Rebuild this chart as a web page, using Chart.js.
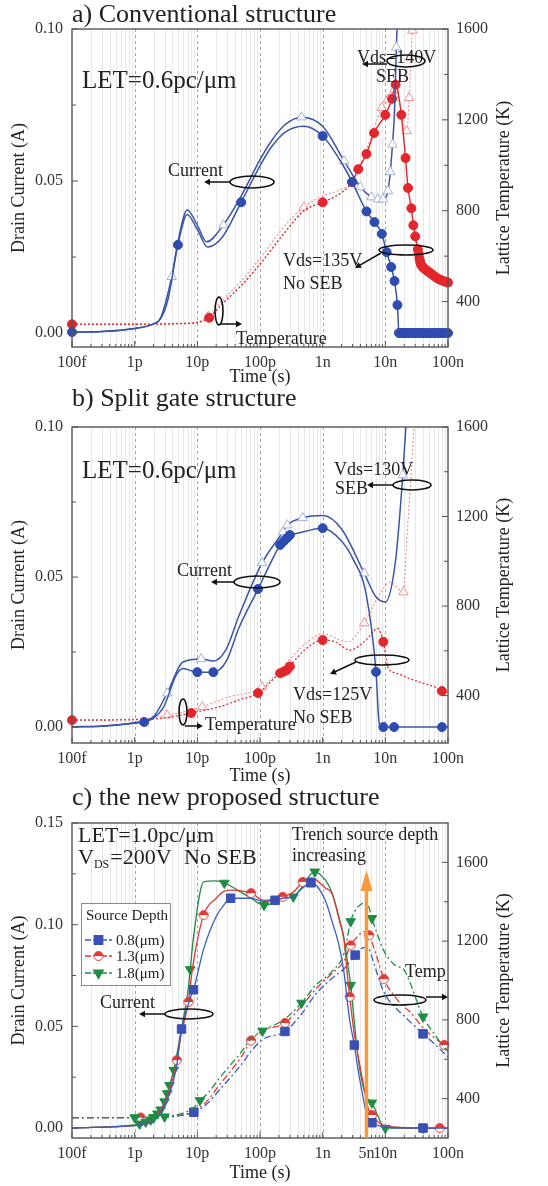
<!DOCTYPE html>
<html>
<head>
<meta charset="utf-8">
<script src="https://cdn.jsdelivr.net/npm/chart.js@4.4.0/dist/chart.umd.min.js"></script>
<style>
  body { margin: 0; background: #fff; width: 548px; height: 1186px; position: relative; overflow: hidden; }
  canvas { position: absolute; left: 0; }
</style>
</head>
<body>
<canvas id="chartA" width="548" height="388" style="top:0px"></canvas>
<canvas id="chartB" width="548" height="399" style="top:388px"></canvas>
<canvas id="chartC" width="548" height="399" style="top:787px"></canvas>
<script>
// axis ticks
const timeTickValues = [1e-13, 1e-12, 1e-11, 1e-10, 1e-9, 1e-8, 1e-7];
const timeTickLabels = ['100f', '1p', '10p', '100p', '1n', '10n', '100n'];
const timeTickValuesC = [1e-13, 1e-12, 1e-11, 1e-10, 1e-9, 5e-9, 1e-8, 1e-7];
const timeTickLabelsC = ['100f', '1p', '10p', '100p', '1n', '5n', '10n', '100n'];
const currentTicksAB = [0, 0.025, 0.05, 0.075, 0.1];
const currentTicksC = [0, 0.025, 0.05, 0.075, 0.1, 0.125, 0.15];
const tempTicks = [400, 600, 800, 1000, 1200, 1400, 1600];

// a) conventional structure
const aTimeI135 = [1e-13, 3e-13, 1e-12, 2e-12, 2.6e-12, 3.4e-12, 4.9e-12, 6.9e-12, 1e-11, 1.46e-11, 2.5e-11, 5e-11, 1e-10, 1.5e-10, 2.5e-10, 5e-10, 1e-9, 2e-9, 2.95e-9, 5e-9, 6.7e-9, 8.8e-9, 1.05e-8, 1.24e-8, 1.4e-8, 1.56e-8,
  1.65e-8, 1.75e-8, 1.85e-8, 2e-8, 2.15e-8, 2.3e-8, 2.5e-8, 2.7e-8, 2.9e-8, 3.1e-8, 3.4e-8, 3.7e-8, 4e-8, 4.4e-8, 4.8e-8, 5.2e-8, 5.7e-8, 6.2e-8, 6.8e-8, 7.4e-8, 8.1e-8, 8.9e-8, 1e-7];
const aI135 = [0.0003, 0.0005, 0.0015, 0.003, 0.0047, 0.011, 0.029, 0.039, 0.034, 0.0283, 0.0315, 0.043, 0.055, 0.061, 0.066, 0.068, 0.0648, 0.056, 0.0497, 0.040, 0.0365, 0.0326, 0.0266, 0.0217, 0.0171, 0.0092,
  0, 0, 0, 0, 0, 0, 0, 0, 0, 0, 0, 0, 0, 0, 0, 0, 0, 0, 0, 0, 0, 0, 0];
const aI135Marks = [1e-13, 4.9e-12, 5e-11, 1e-9, 2.95e-9, 5e-9, 6.7e-9, 8.8e-9, 1.05e-8, 1.24e-8, 1.4e-8, 1.56e-8];

const aTimeI140 = [1e-13, 3e-13, 1e-12, 2e-12, 2.6e-12, 3.9e-12, 4.9e-12, 6.9e-12, 1e-11, 1.4e-11, 2.6e-11, 5e-11, 1e-10, 1.5e-10, 2.5e-10, 4.6e-10, 1e-9, 2.2e-9, 4e-9, 6e-9, 7.6e-9, 9.2e-9, 1.1e-8, 1.2e-8, 1.3e-8, 1.4e-8, 1.5e-8, 1.6e-8];
const aI140 = [0.0003, 0.0005, 0.0015, 0.003, 0.005, 0.0185, 0.030, 0.0405, 0.0355, 0.030, 0.0355, 0.045, 0.057, 0.063, 0.0685, 0.071, 0.068, 0.0566, 0.048, 0.0447, 0.044, 0.044, 0.0467, 0.053, 0.062, 0.0727, 0.094, 0.11];
const aI140Marks = [3.9e-12, 2.6e-11, 4.6e-10, 2.2e-9, 4e-9, 6e-9, 7.6e-9, 9.2e-9, 1.1e-8, 1.2e-8, 1.3e-8, 1.5e-8];

const aTimeT135 = [1e-13, 1e-12, 5e-12, 1e-11, 1.55e-11, 2.3e-11, 5e-11, 1e-10, 2.5e-10, 5e-10, 1e-9, 2e-9, 2.95e-9, 3.7e-9, 5e-9, 6.6e-9, 1e-8, 1.28e-8, 1.46e-8, 1.6e-8, 1.8e-8, 2.1e-8, 2.3e-8, 2.6e-8, 2.8e-8, 3e-8,
  3.3e-8, 3.4e-8, 3.5e-8, 3.6e-8, 3.7e-8, 3.85e-8, 4e-8, 4.25e-8, 4.5e-8, 4.8e-8, 5.1e-8, 5.5e-8, 6e-8, 6.5e-8, 7e-8, 7.7e-8, 8.5e-8, 9.2e-8, 1e-7];
const aT135 = [300, 300, 303, 308, 329, 380, 470, 565, 705, 800, 837, 880, 926, 983, 1050, 1142, 1222, 1293, 1355, 1320, 1222, 1032, 900, 811, 736, 687,
  630, 610, 590, 575, 563, 556, 550, 544, 538, 533, 528, 520, 513, 506, 500, 495, 490, 487, 484];
const aT135Marks = [1e-13, 1.55e-11, 1e-9, 2.95e-9, 3.7e-9, 5e-9, 6.6e-9, 1e-8, 1.28e-8, 1.46e-8, 1.8e-8, 2.1e-8, 2.3e-8, 2.6e-8, 2.8e-8, 3e-8];

const aTimeT140 = [1e-13, 1e-12, 5e-12, 1e-11, 1.5e-11, 2.3e-11, 5e-11, 1e-10, 2.5e-10, 5e-10, 1e-9, 2e-9, 3e-9, 5e-9, 8.8e-9, 1.1e-8, 1.4e-8, 1.7e-8, 2e-8, 2.2e-8, 2.4e-8, 2.7e-8, 3e-8];
const aT140 = [300, 300, 303, 310, 334, 395, 490, 590, 735, 815, 865, 895, 930, 1070, 1253, 1290, 1333, 1270, 1175, 1151, 1297, 1594, 1750];
const aT140Marks = [1.5e-11, 5e-10, 8.8e-9, 1.1e-8, 1.4e-8, 2.2e-8, 2.4e-8, 2.7e-8];

// b) split gate structure
const bTimeI125 = [1e-13, 3e-13, 1e-12, 1.42e-12, 2e-12, 2.9e-12, 4.6e-12, 5.9e-12, 1e-11, 1.8e-11, 2.9e-11, 4.6e-11, 9.3e-11, 1.5e-10, 2.1e-10, 2.4e-10, 2.7e-10, 3e-10, 3.8e-10, 1e-9, 2e-9, 3.1e-9, 4.9e-9, 7.1e-9, 7.9e-9, 8.6e-9, 9.3e-9, 1.38e-8, 3e-8, 8e-8, 1e-7];
const bI125 = [0, 0.0003, 0.0013, 0.0017, 0.003, 0.0067, 0.0173, 0.0195, 0.0183, 0.0183, 0.022, 0.033, 0.046, 0.055, 0.0607, 0.062, 0.063, 0.064, 0.0645, 0.0663, 0.062, 0.0557, 0.0447, 0.0184, 0.002, 0, 0, 0, 0, 0, 0];
const bI125Marks = [1.42e-12, 1e-11, 1.8e-11, 9.3e-11, 2.1e-10, 2.4e-10, 2.7e-10, 3e-10, 1e-9, 7.1e-9, 9.3e-9, 1.38e-8, 8e-8];

const bTimeI130 = [1e-13, 3e-13, 1e-12, 2e-12, 3.3e-12, 5.9e-12, 1.15e-11, 1.8e-11, 2.9e-11, 4.6e-11, 1.08e-10, 2.32e-10, 2.72e-10, 4.8e-10, 1e-9, 2e-9, 4.6e-9, 7e-9, 1e-8, 1.46e-8, 1.9e-8, 2.2e-8];
const bI130 = [0.0001, 0.0004, 0.0015, 0.0035, 0.0113, 0.0217, 0.0227, 0.022, 0.026, 0.037, 0.0547, 0.065, 0.0673, 0.0697, 0.0705, 0.066, 0.0513, 0.0435, 0.0417, 0.0557, 0.084, 0.105];
const bI130Marks = [3.3e-12, 1.15e-11, 1.08e-10, 2.32e-10, 2.72e-10, 4.8e-10, 4.6e-9, 1.9e-8];

const bTimeT125 = [1e-13, 1e-12, 3e-12, 8e-12, 2.2e-11, 4.6e-11, 9.3e-11, 2.1e-10, 2.4e-10, 2.7e-10, 3e-10, 5e-10, 1e-9, 1.6e-9, 2.7e-9, 5e-9, 7.5e-9, 9.3e-9, 1.1e-8, 1.5e-8, 2.5e-8, 4e-8, 6.2e-8, 8e-8, 1e-7];
const bT125 = [290, 292, 300, 322, 349, 380, 411, 500, 507, 514, 530, 600, 648, 640, 603, 650, 700, 640, 527, 500, 475, 455, 438, 420, 412];
const bT125Marks = [1e-13, 8e-12, 9.3e-11, 2.1e-10, 2.4e-10, 2.7e-10, 3e-10, 1e-9, 9.3e-9, 8e-8];

const bTimeT130 = [1e-13, 1e-12, 3.3e-12, 1.2e-11, 3e-11, 1.08e-10, 2.5e-10, 5e-10, 1e-9, 2.5e-9, 4.6e-9, 8e-9, 1.2e-8, 1.5e-8, 1.95e-8, 2.2e-8, 2.6e-8, 3e-8];
const bT130 = [292, 294, 312, 350, 392, 438, 540, 625, 676, 640, 724, 850, 907, 885, 862, 1100, 1400, 1700];
const bT130Marks = [3.3e-12, 1.2e-11, 1.08e-10, 4.6e-9, 1.95e-8];

// c) new proposed structure, source depth 0.8 / 1.3 / 1.8 um
const cTimeI = [1e-13, 1e-12, 1.5e-12, 2e-12, 3e-12, 4.2e-12, 4.7e-12, 5.6e-12, 7.2e-12, 7.7e-12, 8.7e-12, 1.26e-11, 2e-11, 2.7e-11, 3.4e-11, 7.2e-11, 1.16e-10, 1.74e-10, 2.3e-10, 3.4e-10, 4.8e-10, 6.5e-10, 7.5e-10, 1.1e-9, 1.4e-9, 1.85e-9, 2.2e-9, 2.5e-9, 2.7e-9, 3.2e-9, 3.7e-9, 4.3e-9, 4.9e-9, 5.3e-9, 6.1e-9, 1e-8, 4e-8, 7.4e-8, 1e-7];
const cI08 = [0, 0.0012, 0.002, 0.004, 0.011, 0.024, 0.031, 0.0487, 0.061, 0.064, 0.068, 0.088, 0.104, 0.110, 0.113, 0.113, 0.1115, 0.112, 0.113, 0.114, 0.118, 0.1206, 0.12, 0.112, 0.102, 0.089, 0.076, 0.061, 0.053, 0.0408, 0.028, 0.017, 0.008, 0.004, 0.0026, 0.0005, 0, 0, 0];
const cI13 = [0, 0.0012, 0.002, 0.0045, 0.012, 0.026, 0.0334, 0.047, 0.062, 0.07, 0.082, 0.1047, 0.113, 0.1165, 0.117, 0.1155, 0.112, 0.1125, 0.1137, 0.116, 0.121, 0.123, 0.1225, 0.118, 0.1155, 0.102, 0.092, 0.074, 0.0645, 0.046, 0.035, 0.024, 0.015, 0.01, 0.0064, 0.001, 0, 0, 0];
const cI08Marks = [5.6e-12, 8.7e-12, 3.4e-11, 1.74e-10, 6.5e-10, 3.2e-9, 6.1e-9, 4e-8];
const cI13Marks = [4.7e-12, 7.2e-12, 1.26e-11, 7.2e-11, 2.3e-10, 4.8e-10, 2.7e-9, 6.1e-9, 7.4e-8];

const cTimeI18 = [1e-13, 1e-12, 1.2e-12, 1.5e-12, 1.8e-12, 2e-12, 2.3e-12, 2.6e-12, 3e-12, 3.3e-12, 3.6e-12, 4.2e-12, 4.7e-12, 5.6e-12, 7.2e-12, 7.7e-12, 8.7e-12, 1.26e-11, 2e-11, 2.7e-11, 3.4e-11, 7.2e-11, 1.16e-10, 1.74e-10, 2.3e-10, 3.4e-10, 4.8e-10, 6.5e-10, 7.5e-10, 1.1e-9, 1.4e-9, 1.85e-9, 2.2e-9, 2.5e-9, 2.8e-9, 3.2e-9, 3.7e-9, 4.3e-9, 4.9e-9, 6.1e-9, 1e-8, 4e-8, 1e-7];
const cI18 = [0, 0.0015, 0.002, 0.003, 0.004, 0.005, 0.007, 0.009, 0.013, 0.017, 0.021, 0.0285, 0.036, 0.049, 0.069, 0.078, 0.094, 0.121, 0.1215, 0.1205, 0.119, 0.113, 0.1096, 0.111, 0.113, 0.1137, 0.119, 0.125, 0.126, 0.122, 0.116, 0.103, 0.093, 0.081, 0.0703, 0.052, 0.034, 0.022, 0.016, 0.0124, 0, 0, 0];
const cI18Marks = [1.2e-12, 1.5e-12, 1.8e-12, 2e-12, 2.3e-12, 2.6e-12, 3e-12, 3.3e-12, 3.6e-12, 4.2e-12, 7.7e-12, 2.7e-11, 1.16e-10, 3.4e-10, 7.5e-10, 2.8e-9, 6.1e-9, 1e-8, 4e-8];

const cTimeT = [1e-13, 1e-12, 1.25e-12, 2e-12, 3e-12, 5e-12, 8.8e-12, 1.1e-11, 1.5e-11, 2.2e-11, 5.1e-11, 7.2e-11, 1.1e-10, 2.5e-10, 4.6e-10, 7.7e-10, 1.4e-9, 2.2e-9, 2.8e-9, 3.3e-9, 4e-9, 5e-9, 5.5e-9, 6.1e-9, 7e-9, 9.5e-9, 1.4e-8, 2e-8, 2.4e-8, 4e-8, 6e-8, 8.7e-8, 1e-7];
const cT08 = [304, 304, 304, 304, 306, 312, 331, 345, 380, 440, 575, 640, 700, 741, 830, 930, 1010, 1060, 1100, 1129, 1160, 1170, 1160, 1120, 1060, 940, 867, 820, 795, 729, 680, 630, 612];
const cT13 = [304, 304, 304, 304, 306, 314, 334, 355, 395, 465, 615, 695, 745, 784, 870, 955, 1035, 1100, 1179, 1210, 1238, 1250, 1230, 1195, 1140, 1007, 920, 865, 845, 760, 710, 673, 658];
const cT18 = [304, 304, 305, 305, 308, 320, 355, 391, 430, 500, 640, 705, 744, 805, 886, 975, 1045, 1140, 1300, 1355, 1385, 1398, 1370, 1316, 1260, 1150, 1080, 1053, 1000, 816, 730, 660, 640];
const cT08Marks = [8.8e-12, 2.5e-10, 3.3e-9, 4e-8];
const cT13Marks = [1.25e-12, 7.2e-11, 2.5e-10, 2.8e-9, 5.5e-9, 9.5e-9, 8.7e-8];
const cT18Marks = [1e-12, 2e-12, 3e-12, 1.1e-11, 1.1e-10, 4.6e-10, 2.8e-9, 6.1e-9, 4e-8];

const legendLabels = ['0.8(μm)', '1.3(μm)', '1.8(μm)'];

// ---------------------------------------------------------------
const family = '"Liberation Serif", "Times New Roman", serif';
Chart.defaults.font.family = family;

const BLUE = '#3a55a6', BLUE_DOT = '#2e4cb0', BLUE_TRI = '#a3b2dd';
const RED = '#e3262c', RED_TRI = '#f29090';
const C_BLUE = '#3b5cc2', C_RED = '#e23a36', C_GREEN = '#1d8c44';
const ORANGE = '#f59a3d';

function halfCircle(color, r) {
  const c = document.createElement('canvas');
  const s = Math.ceil(r * 2 + 3);
  c.width = c.height = s;
  const g = c.getContext('2d');
  const m = s / 2;
  g.fillStyle = '#fff';
  g.beginPath(); g.arc(m, m, r, 0, Math.PI * 2); g.fill();
  g.fillStyle = color;
  g.beginPath(); g.arc(m, m, r, Math.PI, 0); g.closePath(); g.fill();
  g.strokeStyle = color; g.lineWidth = 1;
  g.beginPath(); g.arc(m, m, r, 0, Math.PI * 2); g.stroke();
  return c;
}
const redHalf = halfCircle(C_RED, 4.5);

function makeMarks(times, r) {
  return c => (c.raw && times.includes(c.raw.x) ? r : 0);
}

function series(times, vals, axis, o) {
  return {
    data: times.map((t, i) => ({ x: t, y: vals[i] })),
    yAxisID: axis,
    order: o.order || 0,
    borderColor: o.color,
    borderWidth: o.width || 1.5,
    borderDash: o.dash || [],
    segment: o.segment,
    cubicInterpolationMode: 'monotone',
    pointStyle: o.shape || 'circle',
    rotation: o.rotation || 0,
    pointRadius: makeMarks(o.marks || [], o.r || 4.5),
    pointBackgroundColor: o.fill,
    pointBorderColor: o.stroke || o.fill,
    pointBorderWidth: o.pbw || 1,
    clip: { left: 8, right: 8, top: 0, bottom: 8 },
    fill: false
  };
}

function logTicks() {
  const out = [];
  for (let e = -13; e < -7; e++) {
    for (let m = 1; m < 10; m++) out.push({ value: m * Math.pow(10, e), major: m === 1 });
  }
  out.push({ value: 1e-7, major: true });
  return out;
}

function tickLabel(v, vals, labs) {
  const i = vals.findIndex(t => Math.abs(v / t - 1) < 1e-6);
  return i < 0 ? '' : labs[i];
}

function makeScales(cfg) {
  return {
    x: {
      type: 'logarithmic', min: 1e-13, max: 1e-7,
      afterBuildTicks: s => { s.ticks = logTicks(); },
      afterFit: s => { s.height = cfg.xh; },
      grid: { display: false, drawTicks: false }, border: { display: false },
      ticks: {
        autoSkip: false, maxRotation: 0, minRotation: 0, padding: 6, color: '#333',
        font: { size: 16 },
        callback: v => tickLabel(v, cfg.tv, cfg.tl)
      },
      title: { display: true, text: 'Time (s)', color: '#222', font: { size: 18 }, padding: { top: 0, bottom: cfg.tpad } }
    },
    y: {
      type: 'linear', position: 'left', min: cfg.ymin, max: cfg.ymax,
      afterBuildTicks: s => { s.ticks = cfg.yt.map(v => ({ value: v })); },
      afterFit: s => { s.width = 72; },
      grid: { display: false, drawTicks: false }, border: { display: false },
      ticks: {
        padding: 9, color: '#333', font: { size: 16 },
        callback: v => (Math.abs(v / 0.05 - Math.round(v / 0.05)) < 1e-6 ? v.toFixed(2) : '')
      },
      title: { display: true, text: 'Drain Current (A)', color: '#222', font: { size: 18 }, padding: { top: 8, bottom: 0 } }
    },
    y1: {
      type: 'linear', position: 'right', min: cfg.tmin, max: cfg.tmax,
      afterBuildTicks: s => { s.ticks = tempTicks.map(v => ({ value: v })); },
      afterFit: s => { s.width = 100; },
      grid: { display: false, drawTicks: false }, border: { display: false },
      ticks: {
        padding: 8, color: '#333', font: { size: 16 },
        callback: v => (v % 400 === 0 ? String(v) : '')
      }
    }
  };
}

function txt(ctx, s, x, y, size, color) {
  ctx.font = size + 'px ' + family;
  ctx.fillStyle = color || '#222';
  ctx.textAlign = 'left';
  ctx.textBaseline = 'alphabetic';
  ctx.fillText(s, x, y);
  return ctx.measureText(s).width;
}
function oval(ctx, cx, cy, rx, ry) {
  ctx.beginPath();
  ctx.ellipse(cx, cy, rx, ry, 0, 0, Math.PI * 2);
  ctx.strokeStyle = '#111';
  ctx.lineWidth = 1.6;
  ctx.setLineDash([]);
  ctx.stroke();
}
function arrow(ctx, x1, y1, x2, y2, color, w, head) {
  head = head || 6;
  const ang = Math.atan2(y2 - y1, x2 - x1);
  ctx.strokeStyle = ctx.fillStyle = color || '#111';
  ctx.lineWidth = w || 1.5;
  ctx.setLineDash([]);
  ctx.beginPath();
  ctx.moveTo(x1, y1);
  ctx.lineTo(x2 - Math.cos(ang) * head * 0.8, y2 - Math.sin(ang) * head * 0.8);
  ctx.stroke();
  const hw = head * 0.55;
  ctx.beginPath();
  ctx.moveTo(x2, y2);
  ctx.lineTo(x2 - head * Math.cos(ang) + hw * Math.sin(ang), y2 - head * Math.sin(ang) - hw * Math.cos(ang));
  ctx.lineTo(x2 - head * Math.cos(ang) - hw * Math.sin(ang), y2 - head * Math.sin(ang) + hw * Math.cos(ang));
  ctx.closePath();
  ctx.fill();
}

function panelPlugin(draw) {
  return {
    id: 'panel',
    beforeDatasetsDraw(chart) {
      const { ctx, chartArea: a, scales: { x } } = chart;
      ctx.save();
      x.ticks.forEach(t => {
        const px = Math.round(x.getPixelForValue(t.value)) + 0.5;
        if (px <= a.left + 1 || px >= a.right - 1) return;
        ctx.beginPath();
        ctx.setLineDash(t.major ? [3, 3] : []);
        ctx.strokeStyle = t.major ? '#a4a4a4' : '#e8e8e8';
        ctx.lineWidth = 1;
        ctx.moveTo(px, a.top);
        ctx.lineTo(px, a.bottom);
        ctx.stroke();
      });
      ctx.restore();
    },
    afterDatasetsDraw(chart) {
      const { ctx, chartArea: a, scales: { x, y, y1 } } = chart;
      ctx.save();
      ctx.setLineDash([]);
      ctx.strokeStyle = '#555';
      ctx.lineWidth = 1.4;
      ctx.strokeRect(a.left, a.top, a.right - a.left, a.bottom - a.top);
      ctx.lineWidth = 1;
      ctx.beginPath();
      x.ticks.forEach(t => {
        const px = x.getPixelForValue(t.value);
        ctx.moveTo(px, a.bottom);
        ctx.lineTo(px, a.bottom - (t.major ? 6 : 3));
      });
      y.ticks.forEach(t => {
        const py = y.getPixelForValue(t.value);
        ctx.moveTo(a.left, py);
        ctx.lineTo(a.left + (t.label ? 6 : 4), py);
      });
      y1.ticks.forEach(t => {
        const py = y1.getPixelForValue(t.value);
        ctx.moveTo(a.right, py);
        ctx.lineTo(a.right - (t.label ? 6 : 4), py);
      });
      ctx.stroke();
      // right axis title, reading upwards like the left one
      ctx.save();
      ctx.translate(504, (a.top + a.bottom) / 2);
      ctx.rotate(-Math.PI / 2);
      ctx.font = '18px ' + family;
      ctx.fillStyle = '#222';
      ctx.textAlign = 'center';
      ctx.textBaseline = 'middle';
      ctx.fillText('Lattice Temperature (K)', 0, 0);
      ctx.restore();
      draw(ctx, chart);
      ctx.restore();
    }
  };
}

function baseOptions(cfg) {
  return {
    responsive: false,
    animation: false,
    devicePixelRatio: 1,
    events: [],
    layout: { padding: { top: cfg.padTop, left: 0, right: 0, bottom: 0 } },
    plugins: { legend: { display: false }, tooltip: { enabled: false } },
    scales: makeScales(cfg)
  };
}

// ---------------- panel a ----------------
new Chart(document.getElementById('chartA'), {
  type: 'line',
  data: {
    datasets: [
      series(aTimeI135, aI135, 'y', { color: BLUE, fill: BLUE_DOT, marks: aI135Marks.concat(aTimeI135.filter(t => t >= 1.65e-8)) }),
      series(aTimeI140, aI140, 'y', { color: BLUE, fill: '#fff', stroke: BLUE_TRI, shape: 'triangle', r: 5.5, marks: aI140Marks }),
      series(aTimeT135, aT135, 'y1', { color: RED, fill: RED, width: 1.4, marks: aT135Marks.concat(aTimeT135.filter(t => t >= 3.3e-8)),
        segment: { borderDash: c => (c.p1.parsed.x <= 2.95e-9 ? [2, 2] : undefined) } }),
      series(aTimeT140, aT140, 'y1', { color: RED_TRI, fill: '#fff', stroke: RED_TRI, width: 1.1, dash: [2, 2], shape: 'triangle', r: 5.5, marks: aT140Marks })
    ]
  },
  options: baseOptions({ padTop: 29, xh: 41, tpad: 0, tv: timeTickValues, tl: timeTickLabels,
    ymin: -0.0046, ymax: 0.1, yt: currentTicksAB, tmin: 200, tmax: 1600 }),
  plugins: [panelPlugin((ctx, chart) => {
    txt(ctx, 'a) Conventional structure', 72, 22, 26);
    txt(ctx, 'LET=0.6pc/μm', 82, 88, 25);
    txt(ctx, 'Vds=140V', 357, 63, 18);
    txt(ctx, 'SEB', 376, 82, 18);
    oval(ctx, 406, 61, 19, 6);
    arrow(ctx, 387, 64, 362, 64);
    txt(ctx, 'Current', 168, 176, 18);
    oval(ctx, 252, 182, 22, 6);
    arrow(ctx, 230, 182, 204, 182);
    oval(ctx, 219, 311, 4, 14);
    arrow(ctx, 221, 324, 242, 324);
    txt(ctx, 'Temperature', 236, 344, 18);
    txt(ctx, 'Vds=135V', 283, 266, 18);
    txt(ctx, 'No SEB', 283, 289, 18);
    oval(ctx, 406, 250, 27, 5);
    arrow(ctx, 381, 253, 355, 268);
  })]
});

// ---------------- panel b ----------------
new Chart(document.getElementById('chartB'), {
  type: 'line',
  data: {
    datasets: [
      series(bTimeI125, bI125, 'y', { color: BLUE, fill: BLUE_DOT, marks: bI125Marks }),
      series(bTimeI130, bI130, 'y', { color: BLUE, fill: '#fff', stroke: BLUE_TRI, shape: 'triangle', r: 5.5, marks: bI130Marks }),
      series(bTimeT125, bT125, 'y1', { color: RED, fill: RED, width: 1.2, dash: [2, 2], marks: bT125Marks }),
      series(bTimeT130, bT130, 'y1', { color: RED_TRI, fill: '#fff', stroke: RED_TRI, width: 1.1, dash: [2, 2], shape: 'triangle', r: 5.5, marks: bT130Marks })
    ]
  },
  options: baseOptions({ padTop: 39, xh: 44, tpad: 0, tv: timeTickValues, tl: timeTickLabels,
    ymin: -0.0053, ymax: 0.1, yt: currentTicksAB, tmin: 188, tmax: 1600 }),
  plugins: [panelPlugin((ctx, chart) => {
    txt(ctx, 'b) Split gate structure', 72, 18, 26);
    txt(ctx, 'LET=0.6pc/μm', 82, 90, 25);
    txt(ctx, 'Vds=130V', 334, 87, 18);
    txt(ctx, 'SEB', 335, 106, 18);
    oval(ctx, 412, 97, 19, 5);
    arrow(ctx, 393, 97, 367, 97);
    txt(ctx, 'Current', 177, 188, 18);
    oval(ctx, 257, 194, 23, 6);
    arrow(ctx, 234, 194, 211, 194);
    oval(ctx, 183, 324, 4, 13);
    arrow(ctx, 185, 338, 203, 338);
    txt(ctx, 'Temperature', 205, 342, 18);
    txt(ctx, 'Vds=125V', 293, 312, 18);
    txt(ctx, 'No SEB', 293, 335, 18);
    oval(ctx, 382, 272, 27, 5);
    arrow(ctx, 356, 274, 330, 286);
  })]
});

// ---------------- panel c ----------------
const dashDot = [7, 3, 2, 3];
const cStyles = [
  { color: C_BLUE, fill: '#3a50b4', shape: 'rect', r: 6, rotation: 0 },
  { color: C_RED, fill: C_RED, shape: redHalf, r: 4.5, rotation: 0 },
  { color: C_GREEN, fill: C_GREEN, shape: 'triangle', r: 5.5, rotation: 180 }
];
new Chart(document.getElementById('chartC'), {
  type: 'line',
  data: {
    datasets: [
      series(cTimeI, cI08, 'y', Object.assign({}, cStyles[0], { width: 1.3, marks: cI08Marks })),
      series(cTimeI, cI13, 'y', Object.assign({}, cStyles[1], { width: 1.3, marks: cI13Marks })),
      series(cTimeI18, cI18, 'y', Object.assign({}, cStyles[2], { width: 1.3, marks: cI18Marks })),
      series(cTimeT, cT08, 'y1', Object.assign({}, cStyles[0], { width: 1.3, dash: dashDot, marks: cT08Marks })),
      series(cTimeT, cT13, 'y1', Object.assign({}, cStyles[1], { width: 1.3, dash: dashDot, marks: cT13Marks })),
      series(cTimeT, cT18, 'y1', Object.assign({}, cStyles[2], { width: 1.3, dash: dashDot, marks: cT18Marks, order: -1 }))
    ]
  },
  options: baseOptions({ padTop: 36, xh: 48, tpad: 2, tv: timeTickValuesC, tl: timeTickLabelsC,
    ymin: -0.0049, ymax: 0.15, yt: currentTicksC, tmin: 200, tmax: 1800 }),
  plugins: [panelPlugin((ctx, chart) => {
    const a = chart.chartArea;
    const x5n = chart.scales.x.getPixelForValue(5e-9);
    txt(ctx, 'c) the new proposed structure', 72, 18, 26);
    txt(ctx, 'LET=1.0pc/μm', 78, 55, 22);
    let px = 78 + txt(ctx, 'V', 78, 77, 22);
    px += txt(ctx, 'DS', px, 81, 12);
    txt(ctx, '=200V', px + 1, 77, 22);
    txt(ctx, 'No SEB', 184, 77, 22);
    txt(ctx, 'Trench source depth', 292, 53, 18);
    txt(ctx, 'increasing', 292, 74, 18);
    // orange marker for 5 ns
    ctx.strokeStyle = ORANGE; ctx.fillStyle = ORANGE; ctx.lineWidth = 3.5; ctx.setLineDash([]);
    ctx.beginPath(); ctx.moveTo(x5n, a.bottom); ctx.lineTo(x5n, 100); ctx.stroke();
    ctx.beginPath(); ctx.moveTo(x5n, 83); ctx.lineTo(x5n - 6, 104); ctx.lineTo(x5n + 6, 104); ctx.closePath(); ctx.fill();
    // legend
    ctx.fillStyle = '#fff';
    ctx.fillRect(81, 116, 89, 82);
    ctx.strokeStyle = '#8a8a8a'; ctx.lineWidth = 1;
    ctx.strokeRect(81.5, 116.5, 89, 82);
    txt(ctx, 'Source Depth', 86, 133, 15);
    [153, 169, 186].forEach((ly, i) => {
      const st = cStyles[i];
      ctx.strokeStyle = st.color; ctx.lineWidth = 1.3; ctx.setLineDash([6, 2]);
      ctx.beginPath(); ctx.moveTo(85, ly); ctx.lineTo(112, ly); ctx.stroke();
      ctx.setLineDash([]);
      ctx.fillStyle = st.fill; ctx.strokeStyle = st.fill;
      if (Chart.helpers && Chart.helpers.drawPoint) {
        Chart.helpers.drawPoint(ctx, { pointStyle: st.shape, radius: st.r, rotation: st.rotation, borderWidth: 1 }, 98.5, ly);
      }
      txt(ctx, legendLabels[i], 116, ly + 5, 15);
    });
    txt(ctx, 'Current', 100, 221, 18);
    oval(ctx, 189, 227, 24, 5);
    arrow(ctx, 165, 227, 139, 227);
    txt(ctx, 'Temp', 405, 190, 18);
    oval(ctx, 400, 213, 26, 5);
    arrow(ctx, 426, 210, 448, 210);
  })]
});
</script>
</body>
</html>
